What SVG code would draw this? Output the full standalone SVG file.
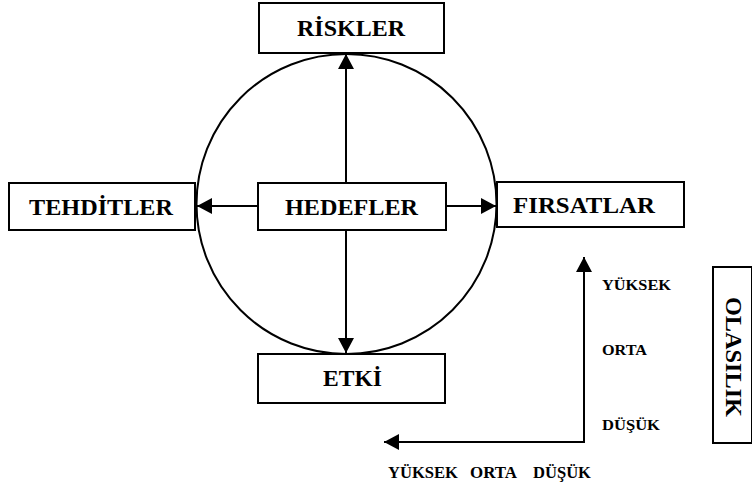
<svg xmlns="http://www.w3.org/2000/svg" width="752" height="486" viewBox="0 0 752 486">
  <style>
    .box { fill: #fff; stroke: #000; stroke-width: 2; }
    .lbl { font-family: 'Liberation Serif', 'Times New Roman', serif; font-weight: 700; fill: #000; }
    .big { font-size: 24px; }
    .small { font-size: 15px; }
    .axis { font-size: 16px; }
    .conn { stroke: #000; stroke-width: 2; fill: none; }
  </style>
  <defs>
    <marker id="arrow" markerWidth="16" markerHeight="16" refX="15" refY="8" orient="auto" markerUnits="userSpaceOnUse">
      <path d="M0,0 L15,8 L0,16 Z" fill="#000"/>
    </marker>
  </defs>
  <rect width="752" height="486" fill="#fff"/>

  <!-- outer circle -->
  <circle cx="346.5" cy="204" r="150" fill="none" stroke="#000" stroke-width="2"/>

  <g id="connectors">
    <line class="conn" x1="346" y1="183" x2="346" y2="54" marker-end="url(#arrow)"/>
    <line class="conn" x1="346" y1="230" x2="346" y2="353" marker-end="url(#arrow)"/>
    <line class="conn" x1="258" y1="206" x2="197" y2="206" marker-end="url(#arrow)"/>
    <line class="conn" x1="446" y1="206" x2="496" y2="206" marker-end="url(#arrow)"/>
    <!-- probability / impact axes -->
    <line class="conn" x1="584" y1="443" x2="584" y2="257" marker-end="url(#arrow)"/>
    <line class="conn" x1="585" y1="442" x2="384" y2="442" marker-end="url(#arrow)"/>
  </g>

  <g id="riskler">
    <rect class="box" x="259" y="3" width="185" height="50"/>
    <text class="lbl big" x="297" y="36" textLength="108" lengthAdjust="spacingAndGlyphs">RİSKLER</text>
  </g>

  <g id="tehditler">
    <rect class="box" x="9" y="183" width="186" height="47"/>
    <text class="lbl big" x="29" y="215" textLength="144" lengthAdjust="spacingAndGlyphs">TEHDİTLER</text>
  </g>

  <g id="hedefler">
    <rect class="box" x="258" y="183" width="188" height="47"/>
    <text class="lbl big" x="285" y="215" textLength="133" lengthAdjust="spacingAndGlyphs">HEDEFLER</text>
  </g>

  <g id="firsatlar">
    <rect class="box" x="497" y="182" width="187" height="45"/>
    <text class="lbl big" x="513" y="213" textLength="142" lengthAdjust="spacingAndGlyphs">FIRSATLAR</text>
  </g>

  <g id="etki">
    <rect class="box" x="258" y="354" width="187" height="49"/>
    <text class="lbl big" x="323" y="386" textLength="59" lengthAdjust="spacingAndGlyphs">ETKİ</text>
  </g>

  <g id="olasilik">
    <rect class="box" x="713" y="267" width="39" height="176"/>
    <text class="lbl big" transform="translate(726,297) rotate(90)" textLength="120" lengthAdjust="spacingAndGlyphs">OLASILIK</text>
  </g>

  <g id="vertical-scale">
    <text class="lbl small" x="602" y="290" textLength="69" lengthAdjust="spacingAndGlyphs">YÜKSEK</text>
    <text class="lbl small" x="602" y="355" textLength="45" lengthAdjust="spacingAndGlyphs">ORTA</text>
    <text class="lbl small" x="602" y="430" textLength="58" lengthAdjust="spacingAndGlyphs">DÜŞÜK</text>
  </g>

  <g id="horizontal-scale">
    <text class="lbl axis" x="388" y="478" textLength="70" lengthAdjust="spacingAndGlyphs">YÜKSEK</text>
    <text class="lbl axis" x="470" y="478" textLength="47" lengthAdjust="spacingAndGlyphs">ORTA</text>
    <text class="lbl axis" x="533" y="478" textLength="58" lengthAdjust="spacingAndGlyphs">DÜŞÜK</text>
  </g>
</svg>
